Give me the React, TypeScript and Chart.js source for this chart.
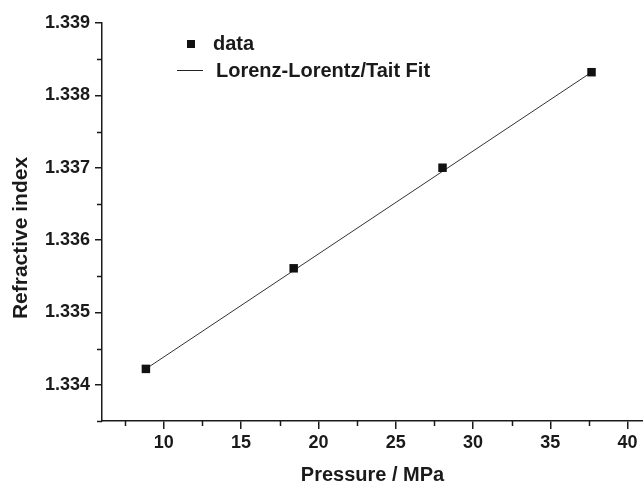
import React, { useEffect, useRef } from "react";
import { Chart, registerables } from "chart.js";

Chart.register(...registerables);

// Data
const pressure = [8.84, 18.4, 28.03, 37.67];
const refractiveIndex = [1.33422, 1.33561, 1.337, 1.33832];
const fitPressure = [8.84, 18.4, 28.03, 37.67];
const fitIndex = [1.33422, 1.33558, 1.33695, 1.33832];

const xMajorTicks = [10, 15, 20, 25, 30, 35, 40];
const xMinorTicks = [7.5, 12.5, 17.5, 22.5, 27.5, 32.5, 37.5];
const yMajorTicks = [1.334, 1.335, 1.336, 1.337, 1.338, 1.339];
const yMinorTicks = [1.3335, 1.3345, 1.3355, 1.3365, 1.3375, 1.3385];

const legendLabels = ["data", "Lorenz-Lorentz/Tait Fit"];
const xTitle = "Pressure / MPa";
const yTitle = "Refractive index";

const FONT = "'Liberation Sans', Arial, Helvetica, sans-serif";
const INK = "#1a1a1a";

const extrasPlugin = {
  id: "extras",
  afterDraw(chart: any) {
    const ctx = chart.ctx;
    const xs = chart.scales.x;
    const ys = chart.scales.y;
    const area = chart.chartArea;
    ctx.save();
    // minor ticks
    ctx.strokeStyle = INK;
    ctx.lineWidth = 1.5;
    ctx.beginPath();
    xMinorTicks.forEach((v) => {
      const px = Math.round(xs.getPixelForValue(v)) + 0.5;
      ctx.moveTo(px, area.bottom);
      ctx.lineTo(px, area.bottom + 5);
    });
    yMinorTicks.forEach((v) => {
      const py = Math.round(ys.getPixelForValue(v)) + 0.5;
      ctx.moveTo(area.left, py);
      ctx.lineTo(area.left - 5, py);
    });
    ctx.stroke();

    // legend
    ctx.fillStyle = "#111";
    ctx.fillRect(187, 40, 8, 8);
    ctx.strokeStyle = "#222";
    ctx.lineWidth = 1;
    ctx.beginPath();
    ctx.moveTo(177, 70.5);
    ctx.lineTo(203, 70.5);
    ctx.stroke();
    ctx.fillStyle = INK;
    ctx.font = `bold 20px ${FONT}`;
    ctx.textBaseline = "alphabetic";
    ctx.textAlign = "left";
    ctx.fillText(legendLabels[0], 213, 50);
    ctx.fillText(legendLabels[1], 216, 77);

    // y-axis title
    ctx.translate(21, 238);
    ctx.rotate(-Math.PI / 2);
    ctx.font = `bold 21px ${FONT}`;
    ctx.textAlign = "center";
    ctx.textBaseline = "middle";
    ctx.fillText(yTitle, 0, 0);
    ctx.restore();
  },
};

export default function App() {
  const canvasRef = useRef<HTMLCanvasElement | null>(null);

  useEffect(() => {
    const canvas = canvasRef.current;
    if (!canvas) return;
    const chart = new Chart(canvas, {
      type: "scatter",
      data: {
        datasets: [
          {
            label: legendLabels[0],
            data: pressure.map((p, i) => ({ x: p, y: refractiveIndex[i] })),
            pointStyle: "rect",
            pointRadius: 6,
            backgroundColor: "#111",
            borderColor: "#111",
            borderWidth: 0,
            showLine: false,
            order: 0,
          },
          {
            label: legendLabels[1],
            data: fitPressure.map((p, i) => ({ x: p, y: fitIndex[i] })),
            showLine: true,
            pointRadius: 0,
            borderColor: "#333",
            borderWidth: 1,
            fill: false,
            order: 1,
          } as any,
        ],
      },
      options: {
        animation: false,
        responsive: false,
        maintainAspectRatio: false,
        layout: { autoPadding: false, padding: { top: 23, right: 0, bottom: 0, left: 0 } },
        plugins: {
          legend: { display: false },
          tooltip: { enabled: false },
        },
        scales: {
          x: {
            type: "linear",
            min: 6,
            max: 41,
            afterBuildTicks: (scale: any) => {
              scale.ticks = xMajorTicks.map((v) => ({ value: v }));
            },
            afterFit: (scale: any) => {
              scale.height = 66;
              scale.paddingLeft = 0;
              scale.paddingRight = 0;
            },
            border: { display: true, color: INK, width: 1.5 },
            grid: {
              display: true,
              drawOnChartArea: false,
              drawTicks: true,
              tickLength: 8,
              color: INK,
              lineWidth: 1.5,
            },
            ticks: {
              color: INK,
              padding: 3,
              maxRotation: 0,
              font: { family: FONT, size: 18, weight: "bold" },
              callback: (v: any) => String(v),
            },
            title: {
              display: true,
              text: xTitle,
              color: INK,
              padding: { top: 0, bottom: 0 },
              font: { family: FONT, size: 20, weight: "bold" },
            },
          },
          y: {
            type: "linear",
            min: 1.3335,
            max: 1.339,
            afterBuildTicks: (scale: any) => {
              scale.ticks = yMajorTicks.map((v) => ({ value: v }));
            },
            afterFit: (scale: any) => {
              scale.width = 102;
              scale.paddingTop = 0;
              scale.paddingBottom = 0;
            },
            border: { display: true, color: INK, width: 1.5 },
            grid: {
              display: true,
              drawOnChartArea: false,
              drawTicks: true,
              tickLength: 7,
              color: INK,
              lineWidth: 1.5,
            },
            ticks: {
              color: INK,
              padding: 5,
              font: { family: FONT, size: 18, weight: "bold" },
              callback: (v: any) => Number(v).toFixed(3),
            },
            title: { display: false },
          },
        },
      },
      plugins: [extrasPlugin],
    });
    return () => chart.destroy();
  }, []);

  return (
    <div
      style={{
        position: "absolute",
        left: 0,
        top: 0,
        width: 643,
        height: 487,
        background: "#fff",
      }}
    >
      <canvas ref={canvasRef} width={643} height={487} style={{ display: "block" }} />
    </div>
  );
}
